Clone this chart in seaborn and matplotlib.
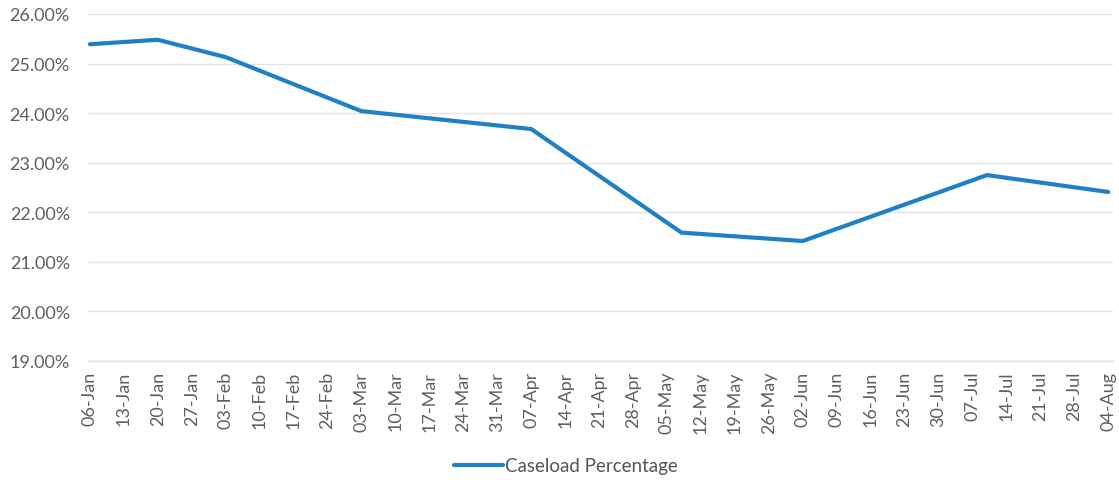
import matplotlib
matplotlib.use("Agg")
import matplotlib.pyplot as plt
import matplotlib.dates as mdates
from matplotlib.ticker import FuncFormatter
import pandas as pd
import seaborn as sns

# Caseload percentage readings
dates = ["2019-01-06", "2019-01-20", "2019-02-03", "2019-03-03", "2019-04-07",
         "2019-05-08", "2019-06-02", "2019-07-10", "2019-08-04"]
caseload_pct = [25.39, 25.48, 25.13, 24.04, 23.68, 21.59, 21.42, 22.75, 22.41]
series_name = "Caseload Percentage"

# Weekly axis ticks
tick_start = "2019-01-06"
tick_end = "2019-08-04"
y_ticks = [19, 20, 21, 22, 23, 24, 25, 26]

df = pd.DataFrame({"date": pd.to_datetime(dates), "value": caseload_pct,
                   "series": series_name})

sns.set_theme(style="white")
plt.rcParams["font.family"] = ["Lato", "DejaVu Sans"]

fig = plt.figure(figsize=(11.19, 4.81), dpi=100)
ax = fig.add_axes([88 / 1119, 1 - 362 / 481, (1113 - 88) / 1119, (362 - 15) / 481])

line_color = "#1f80c6"
sns.lineplot(data=df, x="date", y="value", hue="series", palette=[line_color],
             linewidth=3.0, ax=ax, legend=True)

ticks = pd.date_range(tick_start, tick_end, freq="7D")
ax.set_xticks(ticks)
ax.xaxis.set_major_formatter(mdates.DateFormatter("%d-%b"))
ax.set_xlim(pd.Timestamp(tick_start) - pd.Timedelta(days=0.4),
            pd.Timestamp(tick_end) + pd.Timedelta(days=1.0))

ax.set_ylim(y_ticks[0], y_ticks[-1])
ax.set_yticks(y_ticks)
ax.yaxis.set_major_formatter(FuncFormatter(lambda v, _: f"{v:.2f}%"))

ax.grid(axis="y", color="#e3e3e3", linewidth=1.0)
ax.grid(axis="x", visible=False)
for side in ["top", "right", "left"]:
    ax.spines[side].set_visible(False)
ax.spines["bottom"].set_color("#dcdcdc")
ax.spines["bottom"].set_linewidth(1.0)

tick_color = "#5f5f5f"
ax.tick_params(axis="x", labelrotation=90, labelsize=13, colors=tick_color,
               length=0, pad=7)
ax.tick_params(axis="y", labelsize=13, colors=tick_color, length=0, pad=13)
ax.set_xlabel("")
ax.set_ylabel("")

leg = ax.legend(loc="center", bbox_to_anchor=(566 / 1119, 1 - 467 / 481),
                bbox_transform=fig.transFigure, frameon=False, fontsize=13.5,
                handlelength=2.6, handletextpad=0.1, borderaxespad=0)
for txt in leg.get_texts():
    txt.set_color("#555555")

fig.savefig("out.png", dpi=100, facecolor="white")
